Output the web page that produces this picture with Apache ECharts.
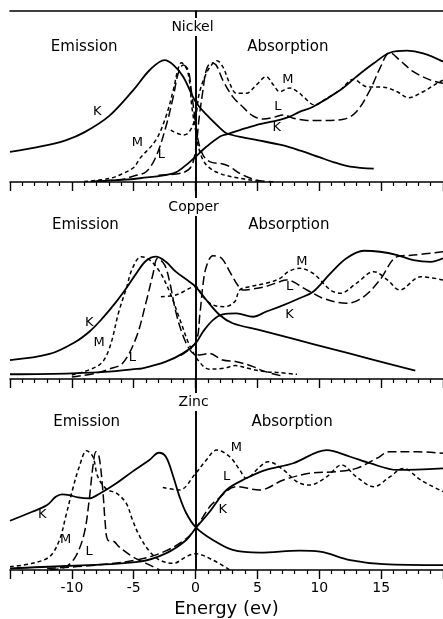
<!DOCTYPE html>
<html>
<head>
<meta charset="utf-8">
<script src="https://cdn.jsdelivr.net/npm/echarts@6/dist/echarts.min.js"></script>
<style>
  html, body { margin: 0; padding: 0; background: #fff; }
  #chart { width: 443px; height: 619px; }
</style>
</head>
<body>
<div id="chart"></div>
<script>
// Energy axis (ev), shared by the three panels
const energyMin = -15;
const energyMax = 20;
const energyStep = 5;

// ---- Nickel: relative intensity vs energy [ev, intensity] ----
const nickelEmissionK = [[-15,17.6],[-12.5,20.8],[-10.5,24.4],[-9,29],[-7,38.5],[-5,54],[-3.7,65.5],[-2.5,71.3],[-1.8,68.5],[-1,61.6],[0,47],[0.9,39.2],[2,31.4],[2.5,28.5],[4,25.8],[5,24.5],[7,21.5],[8.4,18.5],[10,14.5],[11.2,11.5],[12.5,9],[14.4,7.8]];
const nickelEmissionM = [[-9,0.3],[-7,2],[-6,4.5],[-5,8.5],[-4.5,13.8],[-3.2,24.6],[-2.4,38.2],[-1.8,53.8],[-1.4,66.5],[-1.15,69.8],[-0.75,66.5],[-0.5,59.6],[-0.3,44],[0,30.4],[0.3,18.7],[0.87,10],[1.95,5],[3.6,2.2],[5.2,0.3]];
const nickelEmissionL = [[-8.5,0.3],[-6,1.5],[-5,3.5],[-4,6],[-3.2,14.8],[-2.4,32.3],[-1.8,49.9],[-1.4,63.6],[-1,68.4],[-0.6,65.5],[-0.35,53.8],[0,34.3],[0.2,24.6],[0.6,15.8],[1.14,11.9],[2.2,10.5],[2.76,9],[3.57,5],[4.9,1.2],[6.3,0.2]];
const nickelAbsorptionK = [[-8,0.5],[-6,1.2],[-4.5,2.2],[-1.8,5],[-0.75,10],[0,14.8],[0.87,20.6],[1.95,26.5],[2.5,27.9],[3.57,30.4],[4.9,33.3],[6.8,36.3],[7.6,38.2],[8.4,41],[9.5,44],[11.7,53.8],[13,61.6],[14.4,69.4],[15.7,75.6],[17.1,76.8],[18.4,75.2],[20,70.4]];
const nickelAbsorptionM = [[-2,30.4],[-1,27.5],[-0.5,29.4],[0,38.2],[0.3,51.9],[0.87,63.6],[1.4,69.4],[1.73,70.9],[2.2,67.4],[2.76,57.7],[3.3,51.9],[4.1,51.9],[4.9,56.7],[5.7,61.6],[6.3,56.7],[6.8,52.8],[7.6,55],[8.4,51.9],[8.7,49.9],[9.65,45],[10.5,48.5],[11.7,53.8],[12.75,60],[13.85,55.7],[15.2,55.4],[16.3,52.8],[17.2,49.3],[18.4,52.8],[19.5,57.7],[20,59.6]];
const nickelAbsorptionL = [[-3,4],[-1,5.5],[-0.35,9],[0,18.7],[0.3,38.2],[0.6,53.8],[0.87,65.5],[1.26,69.8],[1.66,68.4],[2.2,59.6],[3,49.9],[3.8,44],[4.65,38.6],[5.5,36.8],[6.3,37.8],[7.1,39.2],[7.9,37.3],[9,36],[10.3,35.9],[11.95,36.7],[13,41.1],[14.1,53.8],[14.9,66.5],[15.7,75.6],[16.5,71.3],[17.6,64.5],[19,59.6],[20,57.7]];

// ---- Copper ----
const copperEmissionK = [[-15,9.6],[-11.8,12.7],[-9.7,18.9],[-8.5,24.5],[-7.5,31],[-6.5,38.5],[-5.5,47],[-4.8,53.5],[-4,60],[-3.2,62.1],[-2.4,59.5],[-1.6,54.5],[-0.5,49.4],[0,46.9],[0.87,40.1],[1.95,32.5],[3,28.3],[5.2,24.8],[8,20.2],[11,15.3],[14,10.4],[17.76,4.2]];
const copperEmissionM = [[-10,2],[-7.8,7.1],[-7,15],[-6.2,34.2],[-5.6,46],[-5.1,56.2],[-4.4,62.1],[-3.7,60.4],[-2.9,54.5],[-2.1,44.3],[-1.3,30.8],[-0.5,17.3],[0.3,8.8],[1.1,5],[2.3,5.5],[3.2,6.8],[4.5,5],[5.7,3.7],[6.8,3.2],[8.2,2.4]];
const copperEmissionL = [[-10,1],[-8,3],[-7,5],[-5.9,8],[-4.8,21],[-4,39],[-3.46,52.8],[-3.06,61.3],[-2.5,57.9],[-2.1,49.4],[-1.6,34.2],[-1.03,22.3],[-0.35,13.9],[0.3,12.2],[1.1,13],[2.2,9.6],[3.3,8.8],[4.65,6.3],[5.5,4],[7,1.5]];
const copperAbsorptionK = [[-15,2.4],[-10,2.9],[-7,3.7],[-5,5],[-4.3,5.4],[-2.4,8.8],[-1.03,13],[0,18.1],[0.6,24],[1.4,29.9],[2.2,32.8],[3.3,33.3],[4.65,31.6],[5.7,34.2],[6.8,36.7],[8.4,41],[9.5,44.3],[10.9,53.6],[12.2,61.3],[13.6,65.1],[14.9,64.6],[16.3,62.9],[17.6,60.4],[19,59.5],[20,61.3]];
const copperAbsorptionM = [[-2.8,41.8],[-1.6,42.6],[0,46.9],[0.6,41.8],[1.4,37.6],[2.35,36.7],[3.16,39.2],[3.57,45.2],[4.4,46.9],[5.7,48.6],[6.8,51],[7.5,54.5],[8.4,56.2],[9.5,53.6],[10.9,45.2],[11.7,43.5],[13,48.6],[14.4,54.5],[15.5,50.3],[16.5,45.2],[18.2,51.9],[20,50.3]];
const copperAbsorptionL = [[-1.2,12],[0,18.5],[0.35,33],[0.6,48],[0.87,57],[1.4,62.6],[2.1,61.3],[2.76,54.5],[3.4,47.7],[3.8,45.2],[4.65,45.7],[5.7,47],[6.8,49.4],[7.3,50.3],[9,45.2],[10.3,41],[12.2,38.4],[13.6,41.8],[14.9,50.3],[16.3,62.1],[17.6,62.9],[20,64.6]];

// ---- Zinc ----
const zincEmissionK = [[-15,25.8],[-13.2,30.5],[-12,34],[-11.3,38.3],[-10.8,39.6],[-10.2,39.2],[-9.5,38],[-8.6,37.5],[-7.8,39.8],[-6.4,45.4],[-5.1,51.5],[-3.73,57.6],[-2.97,61.4],[-2.4,59.3],[-1.8,48.8],[-1.3,38.4],[-0.75,29.7],[0,22.5],[1.4,15.7],[3,10.5],[5.2,9.1],[8.4,10.1],[10.05,9.6],[12.5,5.2],[15.2,3.1],[20,2.6]];
const zincEmissionM = [[-15,1.7],[-13.2,3.5],[-11.8,7],[-11,15.7],[-10.5,27.9],[-9.95,41.9],[-9.4,54.1],[-8.8,62.5],[-8.3,59.3],[-7.9,48.8],[-7.2,42.3],[-6.4,40.2],[-5.6,34.9],[-5.1,26.2],[-4.5,17.4],[-3.7,9.6],[-2.9,5.2],[-1.8,3.5],[-0.75,7],[0,8.5],[1.4,5.2],[2.76,0]];
const zincEmissionL = [[-11.8,0],[-10.5,1.7],[-9.7,7],[-9,19.2],[-8.6,36.6],[-8.3,54.1],[-8.05,61.9],[-7.8,59.3],[-7.5,41.9],[-7.3,24.4],[-7.1,15.7],[-6.57,14.8],[-6.2,12.2],[-5.1,7],[-4,3.5],[-2.9,0]];
const zincAbsorptionK = [[-15,0.9],[-10.5,2.1],[-4.5,4.4],[-2.4,8.7],[-0.75,15.7],[0,21.8],[1.14,30.5],[2.5,41.9],[4.1,48],[5.7,52.4],[7.9,55.9],[10.6,62.8],[12.5,59.3],[14.1,55.9],[16.3,52.4],[20,53.2]];
const zincAbsorptionM = [[-2.65,43.2],[-1.3,41.9],[0,50.6],[0.87,57.6],[1.7,62.8],[2.76,59.3],[3.57,52.4],[4.1,48],[5.2,54.1],[5.86,56.7],[7.1,52.4],[8.2,46.2],[9.2,44.5],[10.6,48.8],[11.8,55],[13,48.8],[14.4,43.6],[15.7,48.8],[16.8,53.2],[18.2,47.1],[20,41]];
const zincAbsorptionL = [[-12,0.8],[-8,2.6],[-4.5,5.6],[-2.4,10],[-0.75,16.5],[0,21.8],[1.14,33.1],[1.7,36.6],[3.3,43.6],[5.2,41.9],[7.1,47.1],[9.2,50.6],[11.4,51.5],[13,53.2],[14.65,58.5],[15.7,61.9],[17.9,61.9],[20,61.1]];

// Panel names and their text annotations [ev, intensity, text]
const panelNames = ['Nickel', 'Copper', 'Zinc'];
const nickelNotes = [[-0.25,90.6,'Nickel'],[-9,79,'Emission'],[7.46,79,'Absorption'],[-7.95,40.9,'K'],[-4.7,22.8,'M'],[-2.76,15.8,'L'],[7.46,59.6,'M'],[6.65,43.9,'L'],[6.57,31.6,'K']];
const copperNotes = [[-0.16,87.3,'Copper'],[-8.9,78.2,'Emission'],[7.54,78.2,'Absorption'],[-8.6,28.4,'K'],[-7.8,18.3,'M'],[-5.1,10.7,'L'],[8.6,59.4,'M'],[7.6,46.7,'L'],[7.6,32.5,'K']];
const zincNotes = [[-0.16,88,'Zinc'],[-8.8,77.5,'Emission'],[7.8,77.5,'Absorption'],[-12.4,28.8,'K'],[-10.5,15.7,'M'],[-8.6,9.4,'L'],[3.3,63.9,'M'],[2.5,48.7,'L'],[2.2,31.4,'K']];

const panels = [
  { curves: [nickelEmissionK, nickelEmissionM, nickelEmissionL, nickelAbsorptionK, nickelAbsorptionM, nickelAbsorptionL], notes: nickelNotes },
  { curves: [copperEmissionK, copperEmissionM, copperEmissionL, copperAbsorptionK, copperAbsorptionM, copperAbsorptionL], notes: copperNotes },
  { curves: [zincEmissionK, zincEmissionM, zincEmissionL, zincAbsorptionK, zincAbsorptionM, zincAbsorptionL], notes: zincNotes }
];

const INK = '#000';
const FONT = 'DejaVu Sans';
// K solid, M short dash, L long dash
const strokes = [
  { type: 'solid', width: 1.8 },
  { type: [4, 3], width: 1.5 },
  { type: [9, 4], width: 1.5 },
  { type: 'solid', width: 1.8 },
  { type: [4, 3], width: 1.5 },
  { type: [9, 4], width: 1.5 }
];

const grids = [
  { left: 10, right: 0, top: 11, height: 171 },
  { left: 10, right: 0, top: 182, height: 197 },
  { left: 10, right: 0, top: 379, height: 191 }
];

const xAxes = [];
const yAxes = [];
const series = [];

panels.forEach((panel, i) => {
  const last = i === panels.length - 1;
  xAxes.push({
    type: 'value', gridIndex: i, min: energyMin, max: energyMax, interval: energyStep,
    position: 'bottom',
    axisLine: { show: true, onZero: false, lineStyle: { color: INK, width: 1.6 } },
    axisTick: { show: true, inside: false, length: 9, lineStyle: { color: INK, width: 1.4 } },
    minorTick: { show: true, splitNumber: 5, length: 4, lineStyle: { color: INK, width: 1.2 } },
    splitLine: { show: false },
    axisLabel: {
      show: last, margin: 11, color: INK, fontFamily: FONT, fontSize: 14,
      showMinLabel: false, showMaxLabel: false
    },
    name: last ? 'Energy (ev)' : '', nameLocation: 'middle', nameGap: 30,
    nameTextStyle: { color: INK, fontFamily: FONT, fontSize: 18 }
  });
  yAxes.push({
    type: 'value', gridIndex: i, min: 0, max: 100,
    axisLine: { show: true, lineStyle: { color: INK, width: 1.6 } },
    axisTick: { show: false }, axisLabel: { show: false }, splitLine: { show: false }
  });
});

// top edge of the first panel
xAxes.push({
  type: 'value', gridIndex: 0, min: energyMin, max: energyMax, position: 'top',
  axisLine: { show: true, onZero: false, lineStyle: { color: INK, width: 1.6 } },
  axisTick: { show: false }, axisLabel: { show: false }, splitLine: { show: false }
});

function noteLabel(text) {
  if (panelNames.indexOf(text) >= 0) {
    return { backgroundColor: '#fff', padding: [2, 3], fontSize: 14 };
  }
  if (text === 'K' || text === 'L' || text === 'M') {
    return { fontSize: 13 };
  }
  return { fontSize: 15 };
}

panels.forEach((panel, i) => {
  panel.curves.forEach((data, k) => {
    const s = {
      type: 'line', xAxisIndex: i, yAxisIndex: i, data: data,
      smooth: 0.35, showSymbol: false, symbol: 'none', silent: true,
      lineStyle: { color: INK, width: strokes[k].width, type: strokes[k].type },
      z: 3
    };
    if (k === 0) {
      s.markLine = {
        silent: true, symbol: ['none', 'none'], label: { show: false },
        lineStyle: { color: INK, width: 1.6, type: 'solid' },
        data: [{ xAxis: 0 }]
      };
    }
    series.push(s);
  });
  series.push({
    type: 'scatter', xAxisIndex: i, yAxisIndex: i, symbolSize: 0, silent: true, z: 10,
    itemStyle: { opacity: 1 },
    data: panel.notes.map(n => ({ value: [n[0], n[1]], name: n[2], label: noteLabel(n[2]) })),
    label: {
      show: true, position: 'inside', formatter: '{b}', color: INK,
      fontFamily: FONT, fontSize: 14
    }
  });
});

const chart = echarts.init(document.getElementById('chart'), null, { renderer: 'canvas' });
chart.setOption({
  animation: false,
  backgroundColor: '#fff',
  grid: grids,
  xAxis: xAxes,
  yAxis: yAxes,
  series: series
});
</script>
</body>
</html>
